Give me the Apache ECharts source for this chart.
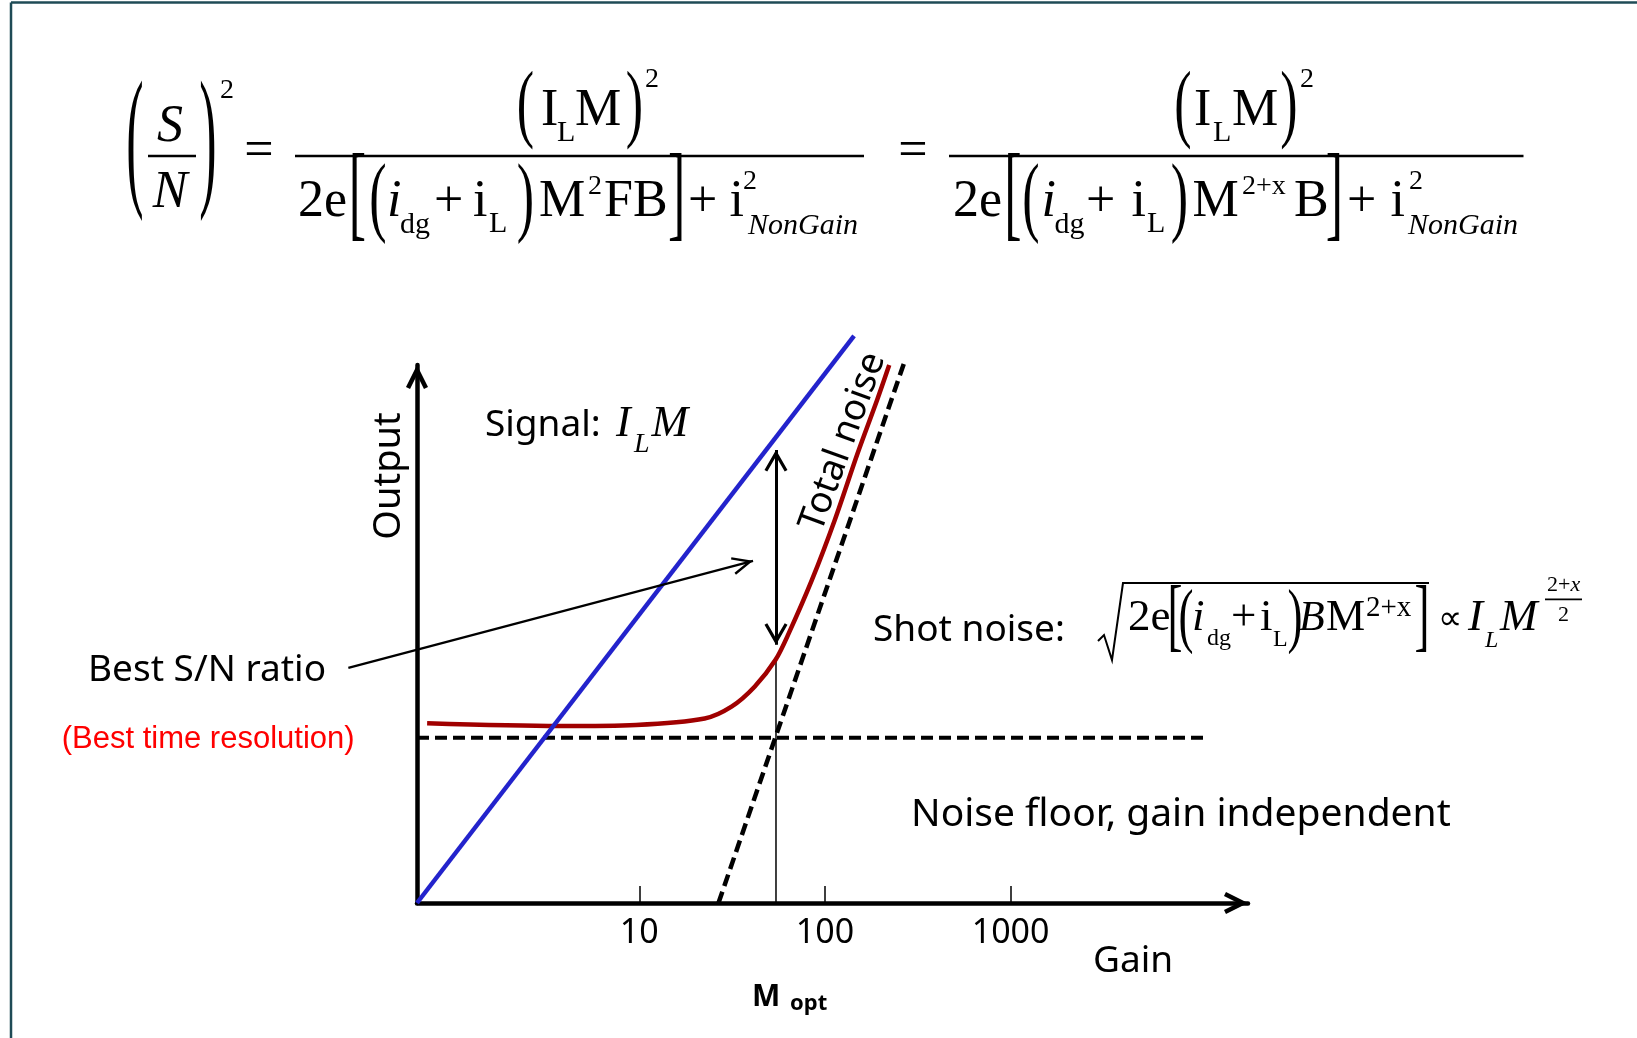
<!DOCTYPE html>
<html>
<head>
<meta charset="utf-8">
<script src="https://cdn.jsdelivr.net/npm/echarts@6/dist/echarts.min.js"></script>
<style>
  html, body { margin: 0; padding: 0; background: #fff; }
  #main { width: 1637px; height: 1038px; }
</style>
</head>
<body>
<div id="main"></div>
<script>
// Gain axis is logarithmic; output is in arbitrary units
// (0 on the gain axis, 100 at the top of the output axis).
const gainMin = 0.635;
const gainMax = 19000;
const gainTicks = [10, 100, 1000];

// Signal I_L*M
const signalGain = [0.635, 143.5];
const signalOut = [0, 105.4];

// Total noise
const totalNoiseGain = [0.72, 3.7, 9.6, 22.5, 31.4, 41.8, 54.2, 64, 85, 113, 150, 191, 222];
const totalNoiseOut = [33.4, 32.9, 33.1, 34.3, 36.5, 40.2, 45.2, 50.2, 60.0, 71.2, 83.6, 93.5, 100];

// Shot noise asymptote
const shotNoiseGain = [26.7, 267];
const shotNoiseOut = [0, 100.4];

// Gain independent noise floor
const floorGain = [0.635, 11300];
const floorOut = [30.7, 30.7];

// Optimum gain and the S/N gap marked there
const mOpt = 54.5;
const mOptNoise = 45.2;
const snGapOut = [48, 84.2];

// Pointer from the "Best S/N ratio" label
const pointerGain = [0.271, 41];
const pointerOut = [43.7, 63.6];

const SERIF = '"Liberation Serif", "Times New Roman", serif';
const SANS = '"Noto Sans", sans-serif';
const ARIAL = '"Liberation Sans", Arial, sans-serif';
const BLUE = '#2323cc';
const RED = '#a00000';

const lg = v => Math.log10(v);
const pairs = (gs, ys) => gs.map((g, i) => [lg(g), ys[i]]);

// Open chevron arrow head pointing up, apex at the centre of a square box
function chevron(hw, len, t) {
  const a = Math.atan2(hw, len);
  const s = Math.sin(a), c = Math.cos(a);
  const ex = hw - t * c, ey = len + t * s, yi = t / s;
  const h = Math.max(ey, hw);
  const f = n => n.toFixed(2);
  return {
    path: 'path://M' + f(-h) + ',' + f(-h) + 'M' + f(h) + ',' + f(h) +
      'M0,0L' + f(hw) + ',' + f(len) + 'L' + f(ex) + ',' + f(ey) + 'L0,' + f(yi) +
      'L' + f(-ex) + ',' + f(ey) + 'L' + f(-hw) + ',' + f(len) + 'Z',
    size: 2 * h
  };
}
const axisHead = chevron(11, 22, 4.5);
const gapHead = chevron(11.5, 20, 3.2);
const pointerHead = chevron(9, 20, 2.4);

// text helpers: x is the left edge (or centre), base is the baseline
function txt(x, base, s, size, o) {
  o = o || {};
  const font = (o.italic ? 'italic ' : '') + (o.bold ? 'bold ' : '') + size + 'px ' + (o.family || SERIF);
  return {
    type: 'text', x: x, y: base - 0.3 * size, z: 100, silent: true,
    rotation: o.rotation || 0,
    style: { text: s, font: font, fill: o.color || '#000', align: o.align || 'left', verticalAlign: 'middle' }
  };
}
// stretched bracket or parenthesis centred at (cx, cy) with height h
function delim(cx, cy, ch, size, h) {
  const gh = (ch === '[' || ch === ']') ? 0.818 : 0.871;
  const k = h / (gh * size);
  return {
    type: 'text', x: cx, y: cy - 0.05 * size * k, scaleY: k, z: 100, silent: true,
    style: { text: ch, font: size + 'px ' + SERIF, fill: '#000', align: 'center', verticalAlign: 'middle' }
  };
}
function seg(x1, y1, x2, y2, w, color) {
  return { type: 'line', z: 100, silent: true, shape: { x1: x1, y1: y1, x2: x2, y2: y2 },
    style: { stroke: color || '#000', lineWidth: w } };
}

const it = { italic: true };
const graphics = [
  // frame
  seg(11, 2.5, 1637, 2.5, 2.5, '#1f4b56'),
  seg(11, 2.5, 11, 1038, 2.5, '#1f4b56'),

  // (S/N)^2
  delim(135, 155.5, '(', 52, 135),
  txt(170, 143, 'S', 52, { italic: true, align: 'center' }),
  seg(148, 156, 196, 156, 2.5),
  txt(170, 208.5, 'N', 52, { italic: true, align: 'center' }),
  delim(208, 155.5, ')', 52, 135),
  txt(220, 99, '2', 28),
  txt(259, 168, '=', 52, { align: 'center' }),

  // first fraction
  seg(295, 156, 864, 156, 2.5),
  delim(525.5, 112.5, '(', 52, 75),
  txt(541, 127, 'I', 52), txt(557, 142, 'L', 30), txt(575, 127, 'M', 52),
  delim(634.5, 112.5, ')', 52, 75),
  txt(645, 88, '2', 28),
  txt(298, 218, '2e', 52),
  delim(357.5, 205, '[', 52, 86),
  delim(378, 206, '(', 52, 78),
  txt(387, 218, 'i', 52, it), txt(400, 234, 'dg', 30),
  txt(434, 218, '+', 52),
  txt(473, 218, 'i', 52), txt(489, 233, 'L', 30),
  delim(525.5, 206, ')', 52, 78),
  txt(539, 218, 'M', 52), txt(588, 195, '2', 28), txt(604, 218, 'FB', 52),
  delim(676.7, 205, ']', 52, 86),
  txt(688, 218, '+', 52),
  txt(729.6, 218, 'i', 52), txt(743, 190, '2', 28), txt(748, 235, 'NonGain', 30, it),

  txt(913, 168, '=', 52, { align: 'center' }),

  // second fraction
  seg(949, 156, 1523.5, 156, 2.5),
  delim(1183, 112.5, '(', 52, 75),
  txt(1194, 127, 'I', 52), txt(1213, 142, 'L', 30), txt(1232, 127, 'M', 52),
  delim(1289, 112.5, ')', 52, 75),
  txt(1300, 88, '2', 28),
  txt(953, 218, '2e', 52),
  delim(1013, 205, '[', 52, 86),
  delim(1031, 206, '(', 52, 78),
  txt(1041.5, 218, 'i', 52, it), txt(1054.5, 234, 'dg', 30),
  txt(1086, 218, '+', 52),
  txt(1131.6, 218, 'i', 52), txt(1147, 233, 'L', 30),
  delim(1179.5, 206, ')', 52, 78),
  txt(1192.6, 218, 'M', 52), txt(1242, 195, '2+x', 28), txt(1294, 218, 'B', 52),
  delim(1334.5, 205, ']', 52, 86),
  txt(1347, 218, '+', 52),
  txt(1390.6, 218, 'i', 52), txt(1409, 190, '2', 28), txt(1408, 235, 'NonGain', 30, it),

  // shot noise expression
  txt(873, 641.7, 'Shot noise:', 37, { family: SANS }),
  { type: 'polyline', z: 100, silent: true,
    shape: { points: [[1098, 641], [1104, 635], [1112, 660], [1123, 583], [1429, 583]] },
    style: { stroke: '#000', lineWidth: 2, fill: null } },
  txt(1128, 631.7, '2e', 45),
  delim(1175, 624, '[', 45, 65),
  delim(1186, 624, '(', 45, 62),
  txt(1192, 631.7, 'i', 45, it), txt(1207, 646, 'dg', 24),
  txt(1231, 631.7, '+', 45),
  txt(1260, 631.7, 'i', 45), txt(1273, 646.7, 'L', 24),
  delim(1295, 624, ')', 45, 62),
  txt(1299, 631.7, 'B', 42, it), txt(1326, 631.7, 'M', 44), txt(1366, 616.7, '2+x', 29),
  delim(1422, 624, ']', 45, 65),
  txt(1438, 630, '\u221D', 34),
  txt(1468, 631.7, 'I', 45, it), txt(1485, 648, 'L', 24, it), txt(1500, 631.7, 'M', 45, it),
  txt(1547, 591.7, '2+', 22), txt(1570.5, 591.7, 'x', 22, it),
  seg(1545, 599.3, 1582, 599.3, 1.8),
  txt(1563.5, 621.7, '2', 22, { align: 'center' }),

  // labels
  txt(485, 436.7, 'Signal:', 37, { family: SANS }),
  txt(616, 438, 'I', 44, it), txt(634, 453, 'L', 28, it), txt(651.5, 438, 'M', 44, it),
  { type: 'text', x: 389, y: 476, rotation: Math.PI / 2, z: 100, silent: true,
    style: { text: 'Output', font: '38px ' + SANS, fill: '#000', align: 'center', verticalAlign: 'middle' } },
  { type: 'text', x: 843, y: 442, rotation: 70 * Math.PI / 180, z: 100, silent: true,
    style: { text: 'Total noise', font: '37px ' + SANS, fill: '#000', align: 'center', verticalAlign: 'middle' } },
  txt(911, 827, 'Noise floor, gain independent', 39, { family: SANS }),
  txt(88, 681.7, 'Best S/N ratio', 37, { family: SANS }),
  txt(61.7, 749, '(Best time resolution)', 31, { family: ARIAL, color: '#ff0000' }),
  txt(1093, 973, 'Gain', 37, { family: SANS }),
  txt(752, 1006.7, 'M', 30, { family: SANS, bold: true }),
  txt(790, 1010, 'opt', 22, { family: SANS, bold: true })
];

const chart = echarts.init(document.getElementById('main'), null, { renderer: 'canvas' });
chart.setOption({
  animation: false,
  backgroundColor: '#fff',
  grid: { left: 417, top: 365, width: 831, height: 538, containLabel: false },
  xAxis: {
    type: 'value', min: lg(gainMin), max: lg(gainMax),
    splitLine: { show: false },
    axisLine: { show: true, onZero: false, lineStyle: { color: '#000', width: 4.5 },
      symbol: ['none', axisHead.path], symbolSize: [axisHead.size, axisHead.size] },
    axisTick: { show: true, inside: true, length: 17, lineStyle: { color: '#000', width: 1.5 },
      customValues: gainTicks.map(lg) },
    axisLabel: { show: true, customValues: gainTicks.map(lg), margin: 13,
      formatter: v => String(Math.round(Math.pow(10, v))),
      color: '#000', fontFamily: SANS, fontSize: 34 }
  },
  yAxis: {
    type: 'value', min: 0, max: 100,
    splitLine: { show: false },
    axisTick: { show: false }, axisLabel: { show: false },
    axisLine: { show: true, onZero: false, lineStyle: { color: '#000', width: 4.5 },
      symbol: ['none', axisHead.path], symbolSize: [axisHead.size, axisHead.size] }
  },
  series: [
    { name: 'Noise floor', type: 'line', data: pairs(floorGain, floorOut), symbol: 'none', clip: false, z: 2,
      lineStyle: { color: '#000', width: 4, type: [12, 6] } },
    { name: 'Shot noise', type: 'line', data: pairs(shotNoiseGain, shotNoiseOut), symbol: 'none', clip: false, z: 2,
      lineStyle: { color: '#000', width: 4.5, type: [12, 6] } },
    { name: 'M opt', type: 'line', data: [[lg(mOpt), 0], [lg(mOpt), mOptNoise]], symbol: 'none', clip: false, z: 2,
      lineStyle: { color: '#000', width: 1.5 } },
    { name: 'Total noise', type: 'line', data: pairs(totalNoiseGain, totalNoiseOut), symbol: 'none', clip: false, z: 3,
      smooth: 0.3, lineStyle: { color: RED, width: 4.5 } },
    { name: 'Signal', type: 'line', data: pairs(signalGain, signalOut), symbol: 'none', clip: false, z: 4,
      lineStyle: { color: BLUE, width: 4.5 } },
    { name: 'S/N gap', type: 'lines', coordinateSystem: 'cartesian2d', clip: false, z: 5, silent: true,
      symbol: [gapHead.path, gapHead.path], symbolSize: gapHead.size,
      lineStyle: { color: '#000', width: 3, opacity: 1, curveness: 0 },
      data: [{ coords: [[lg(mOpt), snGapOut[0]], [lg(mOpt), snGapOut[1]]] }] },
    { name: 'Pointer', type: 'lines', coordinateSystem: 'cartesian2d', clip: false, z: 5, silent: true,
      symbol: ['none', pointerHead.path], symbolSize: pointerHead.size,
      lineStyle: { color: '#000', width: 2.2, opacity: 1, curveness: 0 },
      data: [{ coords: pairs(pointerGain, pointerOut) }] }
  ],
  graphic: { elements: graphics }
});
</script>
</body>
</html>
